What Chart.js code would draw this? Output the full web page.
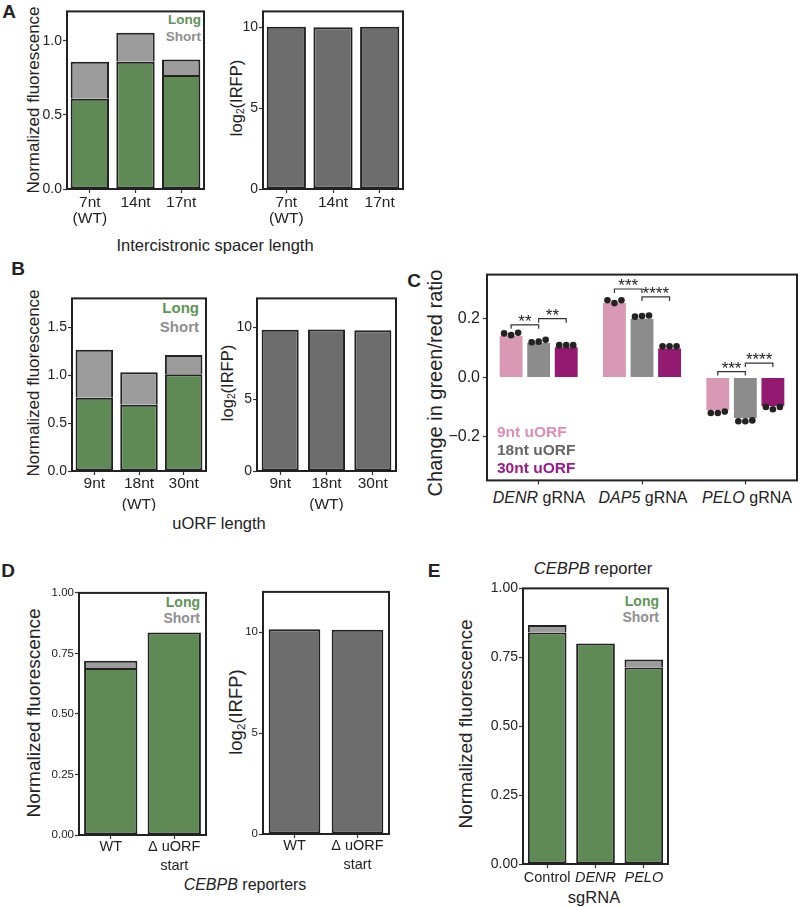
<!DOCTYPE html>
<html>
<head>
<meta charset="utf-8">
<script src="https://cdn.jsdelivr.net/npm/chart.js@4.4.1/dist/chart.umd.min.js"></script>
<style>
body { margin: 0; background: #fff; width: 800px; height: 907px; position: relative; overflow: hidden;
       font-family: 'Liberation Sans', Arial, sans-serif; color: #222; }
canvas { position: absolute; }
.t { position: absolute; white-space: nowrap; line-height: 1; transform: translate(-50%, -50%); }
.r { transform: translate(-50%, -50%) rotate(-90deg); }
.lt { font-weight: bold; font-size: 19px; }
.leg { position: absolute; white-space: nowrap; line-height: 1; font-weight: bold; transform: translate(-100%, -50%); }
sub { font-size: 0.62em; vertical-align: -0.25em; line-height: 0; }
</style>
</head>
<body>

<div class="t lt" style="left:9px;top:11px">A</div>
<div class="t r" style="left:33px;top:100px;font-size:17px">Normalized fluorescence</div>
<div class="t r" style="left:236px;top:98px;font-size:16.5px">log<sub>2</sub>(IRFP)</div>
<div class="leg" style="left:201px;top:20px;font-size:13.5px;color:#5e9456">Long</div>
<div class="leg" style="left:201px;top:37px;font-size:13.5px;color:#8f8f8f">Short</div>
<div class="t" style="left:215px;top:245px;font-size:16.5px">Intercistronic spacer length</div>

<div class="t lt" style="left:18px;top:268px">B</div>
<div class="t r" style="left:33px;top:383px;font-size:17px">Normalized fluorescence</div>
<div class="t r" style="left:227px;top:383px;font-size:16.5px">log<sub>2</sub>(IRFP)</div>
<div class="leg" style="left:199px;top:307px;font-size:15px;color:#5e9456">Long</div>
<div class="leg" style="left:199px;top:326px;font-size:15px;color:#8f8f8f">Short</div>
<div class="t" style="left:219px;top:523px;font-size:16.5px">uORF length</div>

<div class="t lt" style="left:414px;top:280px">C</div>
<div class="t r" style="left:435px;top:383px;font-size:20px">Change in green/red ratio</div>
<div class="t" style="left:539px;top:498px;font-size:16px"><i>DENR</i> gRNA</div>
<div class="t" style="left:643px;top:498px;font-size:16px"><i>DAP5</i> gRNA</div>
<div class="t" style="left:747px;top:498px;font-size:16px"><i>PELO</i> gRNA</div>

<div class="t lt" style="left:8px;top:570px">D</div>
<div class="t r" style="left:33px;top:713px;font-size:19px">Normalized fluorescence</div>
<div class="t r" style="left:236px;top:712px;font-size:18.5px">log<sub>2</sub>(IRFP)</div>
<div class="leg" style="left:200px;top:602px;font-size:14px;color:#5e9456">Long</div>
<div class="leg" style="left:200px;top:618px;font-size:14px;color:#8f8f8f">Short</div>
<div class="t" style="left:245px;top:885px;font-size:16px"><i>CEBPB</i> reporters</div>

<div class="t lt" style="left:434px;top:570px">E</div>
<div class="t" style="left:593px;top:568px;font-size:16.5px"><i>CEBPB</i> reporter</div>
<div class="t r" style="left:465px;top:724px;font-size:19px">Normalized fluorescence</div>
<div class="leg" style="left:659px;top:601px;font-size:14px;color:#5e9456">Long</div>
<div class="leg" style="left:659px;top:617px;font-size:14px;color:#8f8f8f">Short</div>
<div class="t" style="left:594px;top:897px;font-size:16.5px">sgRNA</div>

<script>
// A: intercistronic spacer
const aCats = [['7nt', '(WT)'], '14nt', '17nt'];
const aLong = [0.61, 0.86, 0.77];
const aShort = [0.25, 0.195, 0.105];
const aIrfp = [10.05, 10.02, 10.05];
const aTicks = [0, 0.5, 1.0];

// B: uORF length
const bCats = ['9nt', ['18nt', '(WT)'], '30nt'];
const bLong = [0.765, 0.69, 1.01];
const bShort = [0.50, 0.34, 0.20];
const bIrfp = [9.82, 9.83, 9.78];
const bTicks = [0, 0.5, 1.0, 1.5];

const irfpTicks = [0, 5, 10];

// C: green/red ratio change
const cCats = ['DENR', 'DAP5', 'PELO'];
const cSeries = ['9nt uORF', '18nt uORF', '30nt uORF'];
const c9 = [0.141, 0.253, -0.111];
const c18 = [0.117, 0.200, -0.138];
const c30 = [0.103, 0.099, -0.097];
const c9Reps = [[0.150, 0.144, 0.152], [0.263, 0.253, 0.263], [-0.121, -0.121, -0.116]];
const c18Reps = [[0.120, 0.122, 0.128], [0.207, 0.209, 0.211], [-0.149, -0.149, -0.146]];
const c30Reps = [[0.110, 0.110, 0.110], [0.106, 0.106, 0.106], [-0.100, -0.108, -0.100]];
const cTicks = [-0.2, 0, 0.2];
const cSig = [
    { cat: 0, from: 0, to: 1, y: 0.179, label: '**' },
    { cat: 0, from: 1, to: 2, y: 0.200, label: '**' },
    { cat: 1, from: 0, to: 1, y: 0.301, label: '***' },
    { cat: 1, from: 1, to: 2, y: 0.274, label: '****' },
    { cat: 2, from: 0, to: 1, y: 0.020, label: '***' },
    { cat: 2, from: 1, to: 2, y: 0.049, label: '****' }
];

// D: CEBPB reporters
const dCats = ['WT', ['\u0394 uORF', 'start']];
const dLong = [0.69, 0.836];
const dShort = [0.03, 0];
const dIrfp = [10.15, 10.12];
const dTicks = [0, 0.25, 0.5, 0.75, 1.0];

// E: CEBPB reporter, sgRNA
const eCats = ['Control', 'DENR', 'PELO'];
const eLong = [0.84, 0.80, 0.713];
const eShort = [0.027, 0, 0.029];
const eTicks = [0, 0.25, 0.5, 0.75, 1.0];

const FONT = "'Liberation Sans', Arial, sans-serif";
const GREEN = '#5f8a56', SHORT = '#9c9c9c', DARK = '#6d6d6d', EDGE = '#222';
const C_COLORS = ['#d999b5', '#8c8c8c', '#931a70'];
const PAD = 6;

Chart.defaults.font.family = FONT;
Chart.defaults.color = '#222';

const frame = {
    id: 'frame',
    afterDatasetsDraw(chart) {
        const a = chart.chartArea, c = chart.ctx;
        c.save();
        c.strokeStyle = EDGE;
        c.lineWidth = 2;
        c.strokeRect(a.left, a.top, a.right - a.left, a.bottom - a.top);
        c.restore();
    }
};

function makeCanvas(box, yw, xh) {
    const cv = document.createElement('canvas');
    cv.width = box[2] - box[0] + yw + PAD;
    cv.height = box[3] - box[1] + PAD + xh;
    cv.style.left = (box[0] - yw) + 'px';
    cv.style.top = (box[1] - PAD) + 'px';
    document.body.appendChild(cv);
    return cv;
}

function yAxis(min, max, ticks, size, fmt, yw, pad) {
    return {
        min: min, max: max,
        stacked: true,
        afterBuildTicks: s => { s.ticks = ticks.map(v => ({ value: v })); },
        afterFit: s => { s.width = yw; },
        grid: { drawOnChartArea: false, tickLength: 4, tickColor: '#333', tickWidth: 1.2 },
        border: { display: false },
        ticks: { font: { size: size }, color: '#222', padding: pad, callback: fmt }
    };
}

function xAxis(font, pad, xh) {
    return {
        stacked: true,
        afterFit: s => { s.height = xh; },
        grid: { drawOnChartArea: false, offset: false, tickLength: 4, tickColor: '#333', tickWidth: 1.2 },
        border: { display: false },
        ticks: { font: font, color: '#222', padding: pad, maxRotation: 0, autoSkip: false }
    };
}

function baseOptions(barPct, x, y) {
    return {
        responsive: false,
        animation: false,
        layout: { padding: { top: PAD, right: PAD, left: 0, bottom: 0 }, autoPadding: false },
        plugins: { legend: { display: false }, tooltip: { enabled: false } },
        datasets: { bar: { barPercentage: barPct, categoryPercentage: 1, borderColor: EDGE, borderWidth: 2, borderSkipped: false } },
        scales: { x: x, y: y }
    };
}

function fluorChart(box, yw, xh, cats, long, short, y, x, barPct) {
    new Chart(makeCanvas(box, yw, xh), {
        type: 'bar',
        data: {
            labels: cats,
            datasets: [
                { label: 'Long', data: long, backgroundColor: GREEN,
                  borderWidth: { top: 2, left: 2, right: 2, bottom: 2 } },
                { label: 'Short', data: short, backgroundColor: SHORT,
                  borderWidth: { top: 2, left: 2, right: 2, bottom: 0 } }
            ]
        },
        options: baseOptions(barPct, x, y),
        plugins: [frame]
    });
}

function irfpChart(box, yw, xh, cats, vals, y, x, barPct) {
    new Chart(makeCanvas(box, yw, xh), {
        type: 'bar',
        data: { labels: cats, datasets: [{ label: 'IRFP', data: vals, backgroundColor: DARK }] },
        options: baseOptions(barPct, x, y),
        plugins: [frame]
    });
}

const f1 = v => v.toFixed(1);
const f2 = v => v.toFixed(2);
const f0 = v => String(v);

// A
fluorChart([67, 8, 204, 189], 40, 40, aCats, aLong, aShort,
    yAxis(0, 1.2, aTicks, 14, f1, 40, 1), xAxis({ size: 15.5, lineHeight: 1.03 }, 2, 40), 0.84);
irfpChart([263, 8, 403, 189], 30, 40, aCats, aIrfp,
    yAxis(0, 11, irfpTicks, 14, f0, 30, 1), xAxis({ size: 15.5, lineHeight: 1.03 }, 2, 40), 0.84);

// B
fluorChart([72, 295, 206, 471], 40, 40, bCats, bLong, bShort,
    yAxis(0, 1.8, bTicks, 14, f1, 40, 1), xAxis({ size: 15.5, lineHeight: 1.35 }, -2, 40), 0.84);
irfpChart([257, 295, 396, 471], 30, 40, bCats, bIrfp,
    yAxis(0, 12, irfpTicks, 14, f0, 30, 1), xAxis({ size: 15.5, lineHeight: 1.35 }, -2, 40), 0.8);

// C
const cReps = [c9Reps, c18Reps, c30Reps];
const jitterPx = [-7, 0, 7];

// replicate dots, placed on each bar's own centre
const repDots = {
    id: 'repDots',
    afterDatasetsDraw(chart) {
        const ys = chart.scales.y, c = chart.ctx;
        c.save();
        c.fillStyle = '#222';
        cReps.forEach((reps, s) => {
            const bars = chart.getDatasetMeta(s).data;
            reps.forEach((r, ci) => r.forEach((v, k) => {
                c.beginPath();
                c.arc(bars[ci].x + jitterPx[k], ys.getPixelForValue(v), 3.3, 0, Math.PI * 2);
                c.fill();
            }));
        });
        c.restore();
    }
};

const brackets = {
    id: 'brackets',
    afterDatasetsDraw(chart) {
        const ys = chart.scales.y, c = chart.ctx;
        c.save();
        c.strokeStyle = '#333';
        c.lineWidth = 1.2;
        c.fillStyle = '#222';
        c.font = '17px ' + FONT;
        c.textAlign = 'center';
        c.textBaseline = 'alphabetic';
        cSig.forEach(s => {
            const x0 = chart.getDatasetMeta(s.from).data[s.cat].x;
            const x1 = chart.getDatasetMeta(s.to).data[s.cat].x;
            const y = ys.getPixelForValue(s.y);
            c.beginPath();
            c.moveTo(x0, y + 4);
            c.lineTo(x0, y);
            c.lineTo(x1, y);
            c.lineTo(x1, y + 4);
            c.stroke();
            c.fillText(s.label, (x0 + x1) / 2, y + 2);
        });
        c.restore();
    }
};

const cBox = [487, 268, 797, 483];
const cy = yAxis(-0.35, 0.35, cTicks, 16, v => (v < 0 ? '\u2212' : '') + Math.abs(v).toFixed(1), 50, 3);
cy.stacked = false;
const cx = xAxis({ size: 16 }, 2, 10);
cx.stacked = false;
cx.ticks.callback = () => '';
const cOpts = baseOptions(0.83, cx, cy);
cOpts.datasets.bar = { barPercentage: 0.83, categoryPercentage: 0.8, borderWidth: 0 };

new Chart(makeCanvas(cBox, 50, 10), {
    type: 'bar',
    data: {
        labels: cCats,
        datasets: [
            { label: cSeries[0], data: c9, backgroundColor: C_COLORS[0] },
            { label: cSeries[1], data: c18, backgroundColor: C_COLORS[1] },
            { label: cSeries[2], data: c30, backgroundColor: C_COLORS[2] }
        ]
    },
    options: cOpts,
    plugins: [frame, repDots, brackets]
});

// C legend
[['9nt uORF', '#e08db6', 432], ['18nt uORF', '#666666', 450], ['30nt uORF', '#a0178a', 468]].forEach(l => {
    const d = document.createElement('div');
    d.className = 't';
    d.style.cssText = 'left:497px;top:' + l[2] + 'px;transform:translate(0,-50%);font-weight:bold;font-size:15.5px;color:' + l[1];
    d.textContent = l[0];
    document.body.appendChild(d);
});

// D
fluorChart([79, 591, 206, 835], 40, 45, dCats, dLong, dShort,
    yAxis(0, 1.0, dTicks, 11.5, f2, 40, 1), xAxis({ size: 14.5, lineHeight: 1.3 }, -1.5, 45), 0.84);
irfpChart([263, 590, 389, 834], 30, 45, dCats, dIrfp,
    yAxis(0, 12, irfpTicks, 11.5, f0, 30, 1), xAxis({ size: 14.5, lineHeight: 1.3 }, -1.5, 45), 0.82);

// E
const ex = xAxis({ size: 14.5, lineHeight: 1.1 }, 2, 25);
ex.ticks.font = ctx => ({ family: FONT, size: 14.5, lineHeight: 1.1, style: ctx.index > 0 ? 'italic' : 'normal' });
fluorChart([523, 585, 668, 864], 40, 25, eCats, eLong, eShort,
    yAxis(0, 1.0, eTicks, 14, f2, 40, 1), ex, 0.8);
</script>
</body>
</html>
